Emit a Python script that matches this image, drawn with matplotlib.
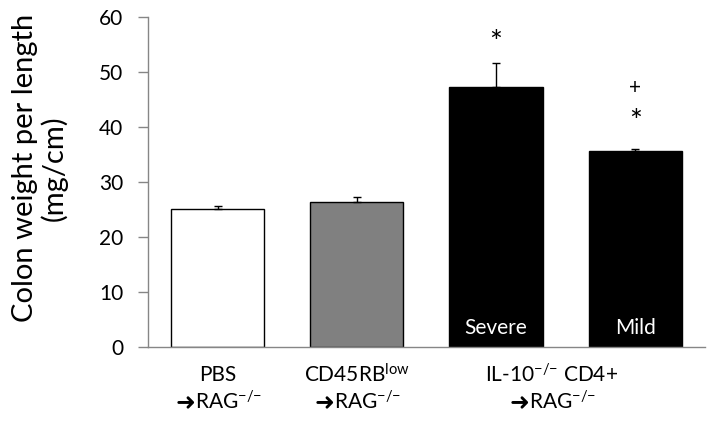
import matplotlib

matplotlib.use("Agg")
import matplotlib.pyplot as plt
import matplotlib.transforms as mtransforms

plt.rcParams["font.family"] = ["Lato", "DejaVu Sans"]
plt.rcParams["mathtext.fontset"] = "custom"
plt.rcParams["mathtext.rm"] = "Lato"
plt.rcParams["mathtext.it"] = "Lato:italic"
plt.rcParams["mathtext.bf"] = "Lato:bold"

# data
groups = ["PBS", "CD45RBlow", "Severe", "Mild"]
means = [25.0, 26.3, 47.2, 35.6]
sem_upper = [0.6, 0.85, 4.4, 0.3]
bar_colors = ["white", "#808080", "black", "black"]
inside_labels = ["", "", "Severe", "Mild"]
KO = "$^{\\mathregular{{-}/{-}}}$"
# category labels: (x position, first line, second line)
cat_labels = [
    (0, "PBS", "RAG" + KO),
    (1, "CD45RB$^{\\mathregular{low}}$", "RAG" + KO),
    (2.4, "IL-10" + KO + " CD4+", "RAG" + KO),
]
# significance marks: (bar index, y value, symbol)
sig_marks = [(2, 56.5, "*"), (3, 47.0, "+"), (3, 42.1, "*")]

AXIS_GRAY = "#868686"
FS = 15

fig = plt.figure(figsize=(7.12, 4.23), dpi=100)
ax = fig.add_axes([0.2079, 0.1804, 0.990 - 0.2079, 0.9605 - 0.1804])

xs = list(range(len(groups)))
ax.bar(xs, means, width=0.67, color=bar_colors, edgecolor="black",
       linewidth=1.0, zorder=2)
ax.errorbar(xs, means, yerr=[[0] * len(xs), sem_upper], fmt="none",
            ecolor="black", elinewidth=1.0, capsize=3, capthick=1.0, zorder=3)

for x, lab in zip(xs, inside_labels):
    if lab:
        ax.text(x, 3.4, lab, color="white", ha="center", va="center",
                fontsize=FS, zorder=4)

for i, y, sym in sig_marks:
    size = 22 if sym == "*" else FS
    off = -1.2 if sym == "*" else 0
    ax.text(xs[i], y + off, sym, ha="center", va="center", fontsize=size,
            zorder=4)

ax.set_xlim(-0.5, 3.5)
ax.set_ylim(0, 60)
ax.set_yticks(range(0, 61, 10))
ax.set_xticks([])

for side in ("top", "right"):
    ax.spines[side].set_visible(False)
for side in ("left", "bottom"):
    ax.spines[side].set_color(AXIS_GRAY)
    ax.spines[side].set_linewidth(1.0)
ax.tick_params(axis="y", colors=AXIS_GRAY, length=7, width=1.0,
               labelsize=FS, pad=11, labelcolor="black")

trans = mtransforms.blended_transform_factory(ax.transData, ax.transAxes)
for x, line1, line2 in cat_labels:
    ax.text(x, -0.085, line1, transform=trans, ha="center", va="center",
            fontsize=FS)
    rag = ax.annotate(line2, xy=(x, -0.165), xycoords=trans,
                      xytext=(8, 0), textcoords="offset points",
                      ha="center", va="center", fontsize=FS,
                      annotation_clip=False)
    ax.annotate("➜", xy=(0, 0.42), xycoords=rag, ha="right", va="center",
                fontsize=17, family="DejaVu Sans", annotation_clip=False)

fig.text(40 / 712, 1 - 168 / 423, "Colon weight per length\n(mg/cm)",
         rotation=90, ha="center", va="center", fontsize=21,
         multialignment="center", linespacing=1.1)

fig.savefig("out.png", dpi=100)
plt.close(fig)
